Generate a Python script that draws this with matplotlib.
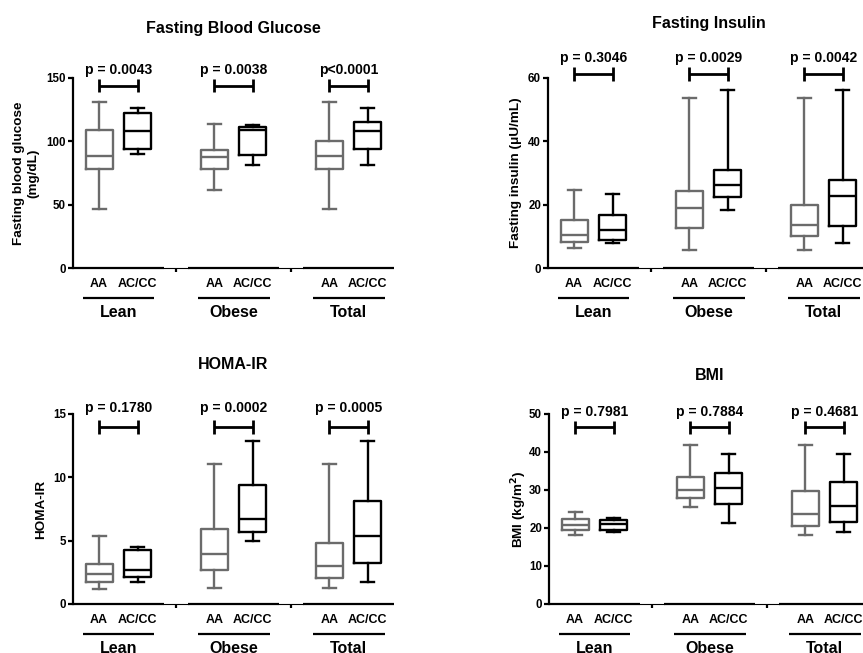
import matplotlib
matplotlib.use("Agg")
import matplotlib.pyplot as plt

plt.rcParams['font.family'] = ['Liberation Sans', 'DejaVu Sans']
plt.rcParams['font.weight'] = 'bold'
plt.rcParams['mathtext.default'] = 'regular'

GRAY = '#6b6b6b'
BLACK = '#000000'

# box order: Lean AA, Lean AC/CC, Obese AA, Obese AC/CC, Total AA, Total AC/CC
positions = [1, 2, 4, 5, 7, 8]
genotypes = ['AA', 'AC/CC', 'AA', 'AC/CC', 'AA', 'AC/CC']
groups = ['Lean', 'Obese', 'Total']
group_centers = [1.5, 4.5, 7.5]

# Fasting blood glucose
glu_low = [46.6, 90.0, 61.8, 81.0, 46.6, 81.0]
glu_q1 = [78.2, 94.2, 78.2, 89.5, 78.2, 94.2]
glu_med = [88.7, 108.4, 87.4, 109.2, 88.2, 108.4]
glu_q3 = [109.2, 122.4, 93.4, 111.0, 100.0, 115.3]
glu_high = [130.8, 126.3, 114.0, 112.9, 130.8, 126.0]
glu_p = ['p = 0.0043', 'p = 0.0038', 'p<0.0001']

# Fasting insulin
ins_low = [6.3, 7.9, 5.8, 18.2, 5.8, 7.9]
ins_q1 = [8.2, 8.9, 12.6, 22.4, 10.2, 13.4]
ins_med = [10.5, 12.1, 18.9, 26.1, 13.5, 22.6]
ins_q3 = [15.1, 16.8, 24.2, 30.8, 20.0, 27.9]
ins_high = [24.7, 23.5, 53.6, 56.3, 53.6, 56.3]
ins_p = ['p = 0.3046', 'p = 0.0029', 'p = 0.0042']

# HOMA-IR
homa_low = [1.16, 1.71, 1.24, 5.0, 1.24, 1.77]
homa_q1 = [1.77, 2.16, 2.69, 5.72, 2.03, 3.22]
homa_med = [2.37, 2.69, 3.95, 6.7, 3.03, 5.38]
homa_q3 = [3.16, 4.27, 5.96, 9.39, 4.85, 8.17]
homa_high = [5.38, 4.48, 11.07, 12.9, 11.07, 12.9]
homa_p = ['p = 0.1780', 'p = 0.0002', 'p = 0.0005']

# BMI
bmi_low = [18.2, 18.9, 25.5, 21.3, 18.2, 18.9]
bmi_q1 = [19.6, 19.4, 27.9, 26.2, 20.6, 21.5]
bmi_med = [20.9, 21.1, 30.0, 30.5, 23.7, 25.7]
bmi_q3 = [22.4, 22.1, 33.3, 34.6, 29.7, 32.1]
bmi_high = [24.2, 22.6, 41.8, 39.6, 41.8, 39.6]
bmi_p = ['p = 0.7981', 'p = 0.7884', 'p = 0.4681']

fig = plt.figure(figsize=(8.63, 6.53), dpi=100)

AX_W = 321 / 863
AX_H = 190 / 653


def make_stats(low, q1, med, q3, high):
    return [dict(whislo=a, q1=b, med=c, q3=d, whishi=e, fliers=[])
            for a, b, c, d, e in zip(low, q1, med, q3, high)]


def draw_panel(rect, stats, title, title_y, ylabel, ylabel_x, ymax, yticks,
               pvals, p_y, br_y, br_h):
    ax = fig.add_axes(rect)
    ax.set_xlim(0.32, 8.68)
    ax.set_ylim(0, ymax)

    for idx, color in [([0, 2, 4], GRAY), ([1, 3, 5], BLACK)]:
        lp = dict(color=color, linewidth=1.7)
        ax.bxp([stats[i] for i in idx], positions=[positions[i] for i in idx],
               widths=0.7, capwidths=0.34, showfliers=False,
               boxprops=lp, whiskerprops=lp, capprops=lp,
               medianprops=lp, manage_ticks=False)

    # axes styling
    for s in ['top', 'right', 'bottom']:
        ax.spines[s].set_visible(False)
    ax.spines['left'].set_linewidth(1.6)
    ax.set_yticks(yticks)
    ax.tick_params(axis='y', length=3.5, width=1.6, labelsize=8.3, pad=1.5)
    ax.set_xticks(positions)
    ax.set_xticklabels(genotypes)
    ax.tick_params(axis='x', length=0, labelsize=9, pad=7)

    # segmented x axis
    tr = ax.get_xaxis_transform()
    for a, b in [(0.32, 2.68), (3.32, 5.68), (6.32, 8.68)]:
        ax.plot([a, b], [0, 0], color=BLACK, lw=1.6, transform=tr,
                clip_on=False, solid_capstyle='butt')
    for a, b in [(2.68, 3.32), (5.68, 6.32)]:
        ax.plot([a, b], [0, 0], color=BLACK, lw=0.8, transform=tr,
                clip_on=False)
    for x in [3, 6]:
        ax.plot([x, x], [0, -0.022], color=BLACK, lw=1.6, transform=tr,
                clip_on=False, solid_capstyle='butt')

    # group labels
    for c, g in zip(group_centers, groups):
        ax.plot([c - 0.93, c + 0.94], [-0.158, -0.158], color=BLACK, lw=1.6,
                transform=tr, clip_on=False, solid_capstyle='butt')
        ax.text(c, -0.232, g, transform=tr, ha='center', va='center',
                fontsize=11.5, fontweight='bold')

    # p-value brackets
    for k, p in enumerate(pvals):
        a, b = positions[2 * k], positions[2 * k + 1]
        ax.plot([a, b], [br_y, br_y], color=BLACK, lw=2.0, clip_on=False,
                solid_capstyle='butt')
        ax.vlines([a, b], br_y - br_h, br_y + br_h, color=BLACK, lw=2.0,
                  clip_on=False)
        ax.text((a + b) / 2, p_y, p, ha='center', va='center',
                fontsize=10, fontweight='bold')

    ax.text(0.5, title_y, title, transform=ax.transAxes, ha='center',
            va='center', fontsize=11.5, fontweight='bold')
    ax.text(ylabel_x, 0.5, ylabel, transform=ax.transAxes, rotation=90,
            ha='center', va='center', fontsize=9.7, fontweight='bold',
            linespacing=1.25)
    return ax


draw_panel([73 / 863, 1 - 268 / 653, AX_W, AX_H],
           make_stats(glu_low, glu_q1, glu_med, glu_q3, glu_high),
           'Fasting Blood Glucose', 1.263,
           'Fasting blood glucose\n(mg/dL)', -0.145,
           150, [0, 50, 100, 150], glu_p, 156.6, 144, 5)

draw_panel([548 / 863, 1 - 268 / 653, AX_W, AX_H],
           make_stats(ins_low, ins_q1, ins_med, ins_q3, ins_high),
           'Fasting Insulin', 1.289,
           'Fasting insulin (\u03bcU/mL)', -0.10,
           60, [0, 20, 40, 60], ins_p, 66.3, 61.4, 2.2)

draw_panel([73 / 863, 1 - 604 / 653, AX_W, AX_H],
           make_stats(homa_low, homa_q1, homa_med, homa_q3, homa_high),
           'HOMA-IR', 1.258,
           'HOMA-IR', -0.10,
           15, [0, 5, 10, 15], homa_p, 15.5, 14.0, 0.55)

draw_panel([549 / 863, 1 - 604 / 653, AX_W, AX_H],
           make_stats(bmi_low, bmi_q1, bmi_med, bmi_q3, bmi_high),
           'BMI', 1.205,
           'BMI (kg/m$^{\\mathbf{2}}$)', -0.094,
           50, [0, 10, 20, 30, 40, 50], bmi_p, 50.4, 46.5, 1.7)

fig.savefig('out.png', dpi=100)
